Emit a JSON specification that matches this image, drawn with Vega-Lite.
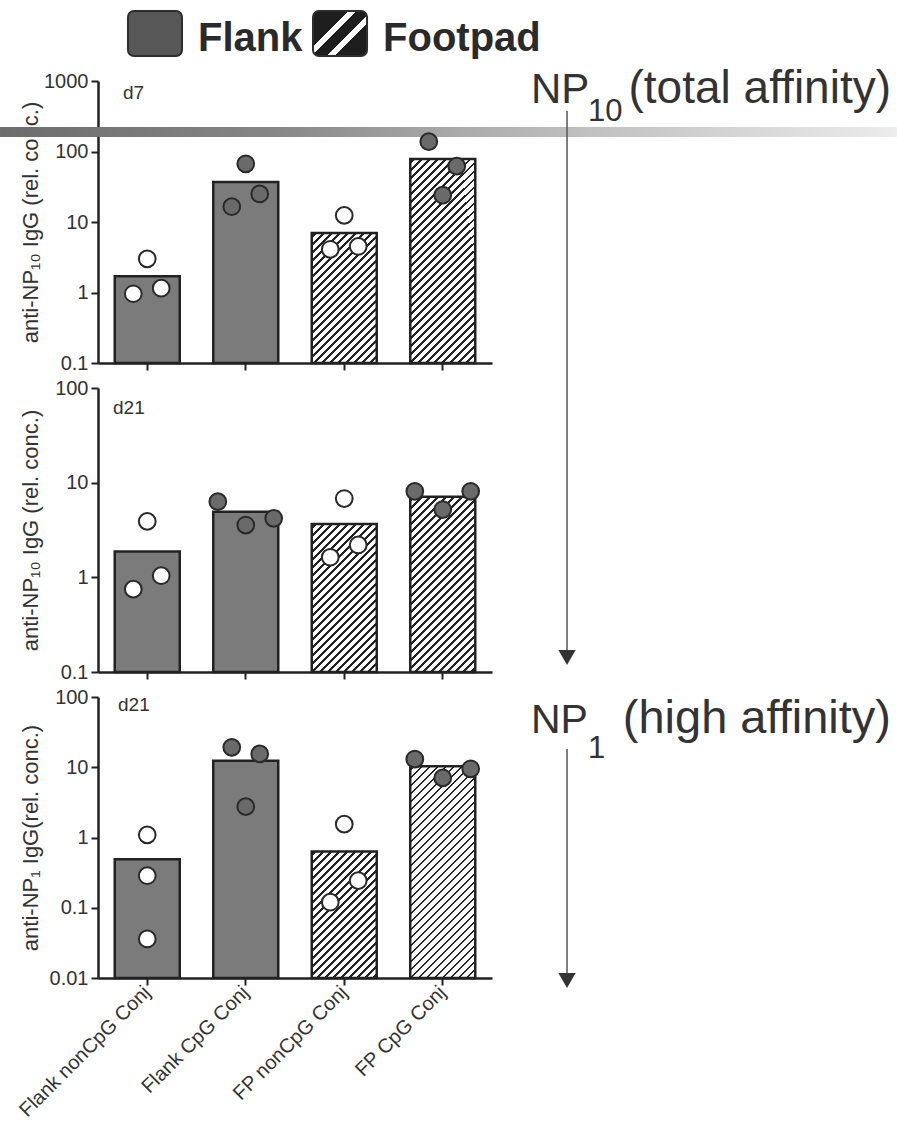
{
  "$schema": "https://vega.github.io/schema/vega-lite/v6.json",
  "padding": {"left": 0, "top": 10, "right": 0, "bottom": 4},
  "background": "white",
  "spacing": 25,
  "bounds": "flush",
  "config": {
    "view": {"stroke": null},
    "font": "Liberation Sans",
    "axis": {
      "grid": false,
      "domainColor": "#222",
      "domainWidth": 2.5,
      "tickColor": "#222",
      "tickWidth": 2,
      "tickSize": 7,
      "labelFont": "Liberation Sans",
      "labelFontSize": 20,
      "labelColor": "#333",
      "labelPadding": 3,
      "titleFont": "Liberation Sans",
      "titleFontSize": 22,
      "titleFontWeight": "normal",
      "titleColor": "#333"
    },
    "axisY": {"titleX": -56, "titleFontSize": 22}
  },
  "params": [
    {
      "name": "hatch",
      "value": [
        {"offset":0.0033,"color":"#fff"},{"offset":0.0033,"color":"#222"},{"offset":0.0067,"color":"#222"},{"offset":0.0067,"color":"#fff"},
        {"offset":0.0133,"color":"#fff"},{"offset":0.0133,"color":"#222"},{"offset":0.0167,"color":"#222"},{"offset":0.0167,"color":"#fff"},
        {"offset":0.0233,"color":"#fff"},{"offset":0.0233,"color":"#222"},{"offset":0.0267,"color":"#222"},{"offset":0.0267,"color":"#fff"},
        {"offset":0.0333,"color":"#fff"},{"offset":0.0333,"color":"#222"},{"offset":0.0367,"color":"#222"},{"offset":0.0367,"color":"#fff"},
        {"offset":0.0433,"color":"#fff"},{"offset":0.0433,"color":"#222"},{"offset":0.0467,"color":"#222"},{"offset":0.0467,"color":"#fff"},
        {"offset":0.0533,"color":"#fff"},{"offset":0.0533,"color":"#222"},{"offset":0.0567,"color":"#222"},{"offset":0.0567,"color":"#fff"},
        {"offset":0.0633,"color":"#fff"},{"offset":0.0633,"color":"#222"},{"offset":0.0667,"color":"#222"},{"offset":0.0667,"color":"#fff"},
        {"offset":0.0733,"color":"#fff"},{"offset":0.0733,"color":"#222"},{"offset":0.0767,"color":"#222"},{"offset":0.0767,"color":"#fff"},
        {"offset":0.0833,"color":"#fff"},{"offset":0.0833,"color":"#222"},{"offset":0.0867,"color":"#222"},{"offset":0.0867,"color":"#fff"},
        {"offset":0.0933,"color":"#fff"},{"offset":0.0933,"color":"#222"},{"offset":0.0967,"color":"#222"},{"offset":0.0967,"color":"#fff"},
        {"offset":0.1033,"color":"#fff"},{"offset":0.1033,"color":"#222"},{"offset":0.1067,"color":"#222"},{"offset":0.1067,"color":"#fff"},
        {"offset":0.1133,"color":"#fff"},{"offset":0.1133,"color":"#222"},{"offset":0.1167,"color":"#222"},{"offset":0.1167,"color":"#fff"},
        {"offset":0.1233,"color":"#fff"},{"offset":0.1233,"color":"#222"},{"offset":0.1267,"color":"#222"},{"offset":0.1267,"color":"#fff"},
        {"offset":0.1333,"color":"#fff"},{"offset":0.1333,"color":"#222"},{"offset":0.1367,"color":"#222"},{"offset":0.1367,"color":"#fff"},
        {"offset":0.1433,"color":"#fff"},{"offset":0.1433,"color":"#222"},{"offset":0.1467,"color":"#222"},{"offset":0.1467,"color":"#fff"},
        {"offset":0.1533,"color":"#fff"},{"offset":0.1533,"color":"#222"},{"offset":0.1567,"color":"#222"},{"offset":0.1567,"color":"#fff"},
        {"offset":0.1633,"color":"#fff"},{"offset":0.1633,"color":"#222"},{"offset":0.1667,"color":"#222"},{"offset":0.1667,"color":"#fff"},
        {"offset":0.1733,"color":"#fff"},{"offset":0.1733,"color":"#222"},{"offset":0.1767,"color":"#222"},{"offset":0.1767,"color":"#fff"},
        {"offset":0.1833,"color":"#fff"},{"offset":0.1833,"color":"#222"},{"offset":0.1867,"color":"#222"},{"offset":0.1867,"color":"#fff"},
        {"offset":0.1933,"color":"#fff"},{"offset":0.1933,"color":"#222"},{"offset":0.1967,"color":"#222"},{"offset":0.1967,"color":"#fff"},
        {"offset":0.2033,"color":"#fff"},{"offset":0.2033,"color":"#222"},{"offset":0.2067,"color":"#222"},{"offset":0.2067,"color":"#fff"},
        {"offset":0.2133,"color":"#fff"},{"offset":0.2133,"color":"#222"},{"offset":0.2167,"color":"#222"},{"offset":0.2167,"color":"#fff"},
        {"offset":0.2233,"color":"#fff"},{"offset":0.2233,"color":"#222"},{"offset":0.2267,"color":"#222"},{"offset":0.2267,"color":"#fff"},
        {"offset":0.2333,"color":"#fff"},{"offset":0.2333,"color":"#222"},{"offset":0.2367,"color":"#222"},{"offset":0.2367,"color":"#fff"},
        {"offset":0.2433,"color":"#fff"},{"offset":0.2433,"color":"#222"},{"offset":0.2467,"color":"#222"},{"offset":0.2467,"color":"#fff"},
        {"offset":0.2533,"color":"#fff"},{"offset":0.2533,"color":"#222"},{"offset":0.2567,"color":"#222"},{"offset":0.2567,"color":"#fff"},
        {"offset":0.2633,"color":"#fff"},{"offset":0.2633,"color":"#222"},{"offset":0.2667,"color":"#222"},{"offset":0.2667,"color":"#fff"},
        {"offset":0.2733,"color":"#fff"},{"offset":0.2733,"color":"#222"},{"offset":0.2767,"color":"#222"},{"offset":0.2767,"color":"#fff"},
        {"offset":0.2833,"color":"#fff"},{"offset":0.2833,"color":"#222"},{"offset":0.2867,"color":"#222"},{"offset":0.2867,"color":"#fff"},
        {"offset":0.2933,"color":"#fff"},{"offset":0.2933,"color":"#222"},{"offset":0.2967,"color":"#222"},{"offset":0.2967,"color":"#fff"},
        {"offset":0.3033,"color":"#fff"},{"offset":0.3033,"color":"#222"},{"offset":0.3067,"color":"#222"},{"offset":0.3067,"color":"#fff"},
        {"offset":0.3133,"color":"#fff"},{"offset":0.3133,"color":"#222"},{"offset":0.3167,"color":"#222"},{"offset":0.3167,"color":"#fff"},
        {"offset":0.3233,"color":"#fff"},{"offset":0.3233,"color":"#222"},{"offset":0.3267,"color":"#222"},{"offset":0.3267,"color":"#fff"},
        {"offset":0.3333,"color":"#fff"},{"offset":0.3333,"color":"#222"},{"offset":0.3367,"color":"#222"},{"offset":0.3367,"color":"#fff"},
        {"offset":0.3433,"color":"#fff"},{"offset":0.3433,"color":"#222"},{"offset":0.3467,"color":"#222"},{"offset":0.3467,"color":"#fff"},
        {"offset":0.3533,"color":"#fff"},{"offset":0.3533,"color":"#222"},{"offset":0.3567,"color":"#222"},{"offset":0.3567,"color":"#fff"}
      ]
    }
  ],
  "datasets": {
    "legend": [{"site": "Flank"}, {"site": "Footpad"}],
    "bars": [
      {"panel": "p1", "group": "Flank nonCpG Conj", "mean": 1.7},
      {"panel": "p1", "group": "Flank CpG Conj", "mean": 37},
      {"panel": "p1", "group": "FP nonCpG Conj", "mean": 7.0},
      {"panel": "p1", "group": "FP CpG Conj", "mean": 78},
      {"panel": "p2", "group": "Flank nonCpG Conj", "mean": 1.88},
      {"panel": "p2", "group": "Flank CpG Conj", "mean": 4.94},
      {"panel": "p2", "group": "FP nonCpG Conj", "mean": 3.65},
      {"panel": "p2", "group": "FP CpG Conj", "mean": 7.1},
      {"panel": "p3", "group": "Flank nonCpG Conj", "mean": 0.49},
      {"panel": "p3", "group": "Flank CpG Conj", "mean": 12.4},
      {"panel": "p3", "group": "FP nonCpG Conj", "mean": 0.63},
      {"panel": "p3", "group": "FP CpG Conj", "mean": 10.3}
    ],
    "pts": [
      {"panel": "p1", "group": "Flank nonCpG Conj", "value": 3.0, "jitter": 0},
      {"panel": "p1", "group": "Flank nonCpG Conj", "value": 0.96, "jitter": -1},
      {"panel": "p1", "group": "Flank nonCpG Conj", "value": 1.15, "jitter": 1},
      {"panel": "p1", "group": "Flank CpG Conj", "value": 67, "jitter": 0},
      {"panel": "p1", "group": "Flank CpG Conj", "value": 16.5, "jitter": -1},
      {"panel": "p1", "group": "Flank CpG Conj", "value": 25, "jitter": 1},
      {"panel": "p1", "group": "FP nonCpG Conj", "value": 12.4, "jitter": 0},
      {"panel": "p1", "group": "FP nonCpG Conj", "value": 4.1, "jitter": -1},
      {"panel": "p1", "group": "FP nonCpG Conj", "value": 4.5, "jitter": 1},
      {"panel": "p1", "group": "FP CpG Conj", "value": 138, "jitter": -1},
      {"panel": "p1", "group": "FP CpG Conj", "value": 62, "jitter": 1},
      {"panel": "p1", "group": "FP CpG Conj", "value": 24, "jitter": 0},
      {"panel": "p2", "group": "Flank nonCpG Conj", "value": 3.9, "jitter": 0},
      {"panel": "p2", "group": "Flank nonCpG Conj", "value": 0.75, "jitter": -1},
      {"panel": "p2", "group": "Flank nonCpG Conj", "value": 1.04, "jitter": 1},
      {"panel": "p2", "group": "Flank CpG Conj", "value": 6.3, "jitter": -2},
      {"panel": "p2", "group": "Flank CpG Conj", "value": 3.57, "jitter": 0},
      {"panel": "p2", "group": "Flank CpG Conj", "value": 4.2, "jitter": 2},
      {"panel": "p2", "group": "FP nonCpG Conj", "value": 6.8, "jitter": 0},
      {"panel": "p2", "group": "FP nonCpG Conj", "value": 1.63, "jitter": -1},
      {"panel": "p2", "group": "FP nonCpG Conj", "value": 2.2, "jitter": 1},
      {"panel": "p2", "group": "FP CpG Conj", "value": 8.1, "jitter": -2},
      {"panel": "p2", "group": "FP CpG Conj", "value": 5.2, "jitter": 0},
      {"panel": "p2", "group": "FP CpG Conj", "value": 8.1, "jitter": 2},
      {"panel": "p3", "group": "Flank nonCpG Conj", "value": 1.09, "jitter": 0},
      {"panel": "p3", "group": "Flank nonCpG Conj", "value": 0.286, "jitter": 0},
      {"panel": "p3", "group": "Flank nonCpG Conj", "value": 0.036, "jitter": 0},
      {"panel": "p3", "group": "Flank CpG Conj", "value": 19.2, "jitter": -1},
      {"panel": "p3", "group": "Flank CpG Conj", "value": 15.5, "jitter": 1},
      {"panel": "p3", "group": "Flank CpG Conj", "value": 2.75, "jitter": 0},
      {"panel": "p3", "group": "FP nonCpG Conj", "value": 1.55, "jitter": 0},
      {"panel": "p3", "group": "FP nonCpG Conj", "value": 0.12, "jitter": -1},
      {"panel": "p3", "group": "FP nonCpG Conj", "value": 0.243, "jitter": 1},
      {"panel": "p3", "group": "FP CpG Conj", "value": 13.1, "jitter": -2},
      {"panel": "p3", "group": "FP CpG Conj", "value": 7.05, "jitter": 0},
      {"panel": "p3", "group": "FP CpG Conj", "value": 9.5, "jitter": 2}
    ]
  },
  "vconcat": [
    {
      "width": 299,
      "height": 45,
      "data": {"name": "legend"},
      "layer": [
        {
          "mark": {"type": "bar", "cornerRadius": 6, "stroke": "#2e2e2e", "strokeWidth": 2},
          "encoding": {
            "x": {"field": "site", "type": "nominal", "title": null, "scale": {"type": "band", "domain": ["Flank", "Footpad"], "paddingInner": 0.708, "paddingOuter": 0.162}, "axis": null},
            "fill": {
              "condition": {
                "test": "datum.site === 'Footpad'",
                "value": {"gradient": "linear", "x1": 0, "y1": 0, "x2": 1.082, "y2": 0.902,
                  "stops": [
                    {"offset": 0, "color": "#1e1e1e"}, {"offset": 0.355, "color": "#1e1e1e"},
                    {"offset": 0.355, "color": "#ffffff"}, {"offset": 0.44, "color": "#ffffff"},
                    {"offset": 0.44, "color": "#1e1e1e"}, {"offset": 0.59, "color": "#1e1e1e"},
                    {"offset": 0.59, "color": "#ffffff"}, {"offset": 0.675, "color": "#ffffff"},
                    {"offset": 0.675, "color": "#1e1e1e"}, {"offset": 1, "color": "#1e1e1e"}
                  ]}
              },
              "value": "#575757"
            }
          }
        },
        {
          "mark": {"type": "text", "align": "left", "baseline": "middle", "dx": 16, "dy": 5, "fontSize": 40, "fontWeight": "bold", "fill": "#2a2a2a"},
          "encoding": {
            "x": {"field": "site", "type": "nominal", "title": null, "bandPosition": 1, "scale": {"type": "band", "domain": ["Flank", "Footpad"], "paddingInner": 0.708, "paddingOuter": 0.162}, "axis": null},
            "text": {"field": "site", "type": "nominal"}
          }
        }
      ]
    },
    {
      "width": 394,
      "height": 282,
      "resolve": {"scale": {"x": "independent", "xOffset": "independent"}},
      "layer": [
        {
          "data": {"values": [{"label": "band"}]},
          "mark": {"type": "rect", "fill": {"gradient": "linear", "x1": 0, "y1": 0, "x2": 1, "y2": 0,
            "stops": [{"offset": 0, "color": "#6c6c6c"}, {"offset": 0.3, "color": "#868686"}, {"offset": 0.6, "color": "#b9b9b9"}, {"offset": 1, "color": "#ececec"}]}},
          "encoding": {
            "x": {"datum": -0.2487, "type": "quantitative", "scale": {"domain": [0, 1]}, "axis": null},
            "x2": {"datum": 2.0279},
            "y": {"datum": 222.6, "type": "quantitative", "title": "anti-NP₁₀ IgG (rel. conc.)", "scale": {"type": "log", "domain": [0.1, 1000]}},
            "y2": {"datum": 160.6}
          }
        },
        {
          "data": {"name": "bars"},
          "transform": [{"filter": "datum.panel === 'p1'"}],
          "mark": {"type": "bar", "stroke": "#222", "strokeWidth": 2.5},
          "encoding": {
            "x": {"field": "group", "type": "nominal", "title": null, "scale": {"type": "band", "domain": ["Flank nonCpG Conj", "Flank CpG Conj", "FP nonCpG Conj", "FP CpG Conj"], "paddingInner": 0.34, "paddingOuter": 0.17}, "axis": {"labels": false}},
            "y": {"field": "mean", "type": "quantitative", "title": "anti-NP₁₀ IgG (rel. conc.)", "scale": {"type": "log", "domain": [0.1, 1000]}, "axis": {"values": [0.1, 1, 10, 100, 1000], "format": "~g", "titleFontSize": 22}},
            "y2": {"datum": 0.1},
            "fill": {
              "condition": [
                {"test": "datum.group === 'FP nonCpG Conj'", "value": {"expr": "{gradient:'linear',x1:0,y1:0,x2:2.4585,y2:4.9208,stops:hatch}"}},
                {"test": "datum.group === 'FP CpG Conj'", "value": {"expr": "{gradient:'linear',x1:0,y1:0,x2:1.1354,y2:3.5616,stops:hatch}"}}
              ],
              "value": "#7b7b7b"
            }
          }
        },
        {
          "data": {"name": "pts"},
          "transform": [{"filter": "datum.panel === 'p1'"}],
          "mark": {"type": "point", "shape": "circle", "filled": true, "size": 280, "stroke": "#2a2a2a", "strokeWidth": 2, "opacity": 1},
          "encoding": {
            "x": {"field": "group", "type": "nominal", "title": null, "scale": {"type": "band", "domain": ["Flank nonCpG Conj", "Flank CpG Conj", "FP nonCpG Conj", "FP CpG Conj"], "paddingInner": 0.34, "paddingOuter": 0.17}, "axis": null},
            "xOffset": {"field": "jitter", "type": "ordinal", "scale": {"domain": [-2, -1, 0, 1, 2], "paddingInner": 0, "paddingOuter": 0.326}},
            "y": {"field": "value", "type": "quantitative", "title": "anti-NP₁₀ IgG (rel. conc.)", "scale": {"type": "log", "domain": [0.1, 1000]}},
            "fill": {"condition": {"test": "indexof(datum.group, 'nonCpG') >= 0", "value": "#ffffff"}, "value": "#6a6a6a"}
          }
        },
        {
          "data": {"values": [{"label": "d7"}]},
          "mark": {"type": "text", "align": "left", "baseline": "middle", "fontSize": 19, "fill": "#333"},
          "encoding": {
            "x": {"datum": 0.0635, "type": "quantitative", "scale": {"domain": [0, 1]}, "axis": null},
            "y": {"datum": 675.7, "type": "quantitative", "title": "anti-NP₁₀ IgG (rel. conc.)", "scale": {"type": "log", "domain": [0.1, 1000]}},
            "text": {"field": "label", "type": "nominal"}
          }
        },
        {
          "data": {"values": [{"label": "NP"}]},
          "mark": {"type": "text", "align": "left", "baseline": "alphabetic", "fontSize": 42, "fill": "#333"},
          "encoding": {
            "x": {"datum": 1.099, "type": "quantitative", "scale": {"domain": [0, 1]}, "axis": null},
            "y": {"datum": 487.6, "type": "quantitative", "title": "anti-NP₁₀ IgG (rel. conc.)", "scale": {"type": "log", "domain": [0.1, 1000]}},
            "text": {"field": "label", "type": "nominal"}
          }
        },
        {
          "data": {"values": [{"label": "10"}]},
          "mark": {"type": "text", "align": "left", "baseline": "alphabetic", "fontSize": 31, "fill": "#333"},
          "encoding": {
            "x": {"datum": 1.2437, "type": "quantitative", "scale": {"domain": [0, 1]}, "axis": null},
            "y": {"datum": 270.7, "type": "quantitative", "title": "anti-NP₁₀ IgG (rel. conc.)", "scale": {"type": "log", "domain": [0.1, 1000]}},
            "text": {"field": "label", "type": "nominal"}
          }
        },
        {
          "data": {"values": [{"label": "(total affinity)"}]},
          "mark": {"type": "text", "align": "right", "baseline": "alphabetic", "fontSize": 46, "fill": "#333"},
          "encoding": {
            "x": {"datum": 2.0127, "type": "quantitative", "scale": {"domain": [0, 1]}, "axis": null},
            "y": {"datum": 487.6, "type": "quantitative", "title": "anti-NP₁₀ IgG (rel. conc.)", "scale": {"type": "log", "domain": [0.1, 1000]}},
            "text": {"field": "label", "type": "nominal"}
          }
        }
      ]
    },
    {
      "width": 394,
      "height": 284,
      "resolve": {"scale": {"x": "independent", "xOffset": "independent"}},
      "layer": [
        {
          "data": {"name": "bars"},
          "transform": [{"filter": "datum.panel === 'p2'"}],
          "mark": {"type": "bar", "stroke": "#222", "strokeWidth": 2.5},
          "encoding": {
            "x": {"field": "group", "type": "nominal", "title": null, "scale": {"type": "band", "domain": ["Flank nonCpG Conj", "Flank CpG Conj", "FP nonCpG Conj", "FP CpG Conj"], "paddingInner": 0.34, "paddingOuter": 0.17}, "axis": {"labels": false}},
            "y": {"field": "mean", "type": "quantitative", "title": "anti-NP₁₀ IgG (rel. conc.)", "scale": {"type": "log", "domain": [0.1, 100]}, "axis": {"values": [0.1, 1, 10, 100], "format": "~g", "titleFontSize": 22}},
            "y2": {"datum": 0.1},
            "fill": {
              "condition": [
                {"test": "datum.group === 'FP nonCpG Conj'", "value": {"expr": "{gradient:'linear',x1:0,y1:0,x2:1.9924,y2:4.5335,stops:hatch}"}},
                {"test": "datum.group === 'FP CpG Conj'", "value": {"expr": "{gradient:'linear',x1:0,y1:0,x2:1.4876,y2:4.012,stops:hatch}"}}
              ],
              "value": "#7b7b7b"
            }
          }
        },
        {
          "data": {"name": "pts"},
          "transform": [{"filter": "datum.panel === 'p2'"}],
          "mark": {"type": "point", "shape": "circle", "filled": true, "size": 280, "stroke": "#2a2a2a", "strokeWidth": 2, "opacity": 1},
          "encoding": {
            "x": {"field": "group", "type": "nominal", "title": null, "scale": {"type": "band", "domain": ["Flank nonCpG Conj", "Flank CpG Conj", "FP nonCpG Conj", "FP CpG Conj"], "paddingInner": 0.34, "paddingOuter": 0.17}, "axis": null},
            "xOffset": {"field": "jitter", "type": "ordinal", "scale": {"domain": [-2, -1, 0, 1, 2], "paddingInner": 0, "paddingOuter": 0.326}},
            "y": {"field": "value", "type": "quantitative", "title": "anti-NP₁₀ IgG (rel. conc.)", "scale": {"type": "log", "domain": [0.1, 100]}},
            "fill": {"condition": {"test": "indexof(datum.group, 'nonCpG') >= 0", "value": "#ffffff"}, "value": "#6a6a6a"}
          }
        },
        {
          "data": {"values": [{"label": "d21"}]},
          "mark": {"type": "text", "align": "left", "baseline": "middle", "fontSize": 19, "fill": "#333"},
          "encoding": {
            "x": {"datum": 0.0381, "type": "quantitative", "scale": {"domain": [0, 1]}, "axis": null},
            "y": {"datum": 61.5, "type": "quantitative", "title": "anti-NP₁₀ IgG (rel. conc.)", "scale": {"type": "log", "domain": [0.1, 100]}},
            "text": {"field": "label", "type": "nominal"}
          }
        },
        {
          "data": {"values": [{"label": "arrow"}]},
          "mark": {"type": "rule", "stroke": "#555", "strokeWidth": 1.5},
          "encoding": {
            "x": {"datum": 1.1904, "type": "quantitative", "scale": {"domain": [0, 1]}, "axis": null},
            "y": {"datum": 84340, "type": "quantitative", "title": "anti-NP₁₀ IgG (rel. conc.)", "scale": {"type": "log", "domain": [0.1, 100]}},
            "y2": {"datum": 0.1423}
          }
        },
        {
          "data": {"values": [{"label": "arrowhead"}]},
          "mark": {"type": "point", "shape": "triangle-down", "size": 300, "filled": true, "fill": "#333", "strokeWidth": 0, "opacity": 1},
          "encoding": {
            "x": {"datum": 1.1904, "type": "quantitative", "scale": {"domain": [0, 1]}, "axis": null},
            "y": {"datum": 0.1423, "type": "quantitative", "title": "anti-NP₁₀ IgG (rel. conc.)", "scale": {"type": "log", "domain": [0.1, 100]}}
          }
        }
      ]
    },
    {
      "width": 394,
      "height": 281,
      "resolve": {"scale": {"x": "independent", "xOffset": "independent"}},
      "layer": [
        {
          "data": {"name": "bars"},
          "transform": [{"filter": "datum.panel === 'p3'"}],
          "mark": {"type": "bar", "stroke": "#222", "strokeWidth": 2.5},
          "encoding": {
            "x": {"field": "group", "type": "nominal", "title": null, "scale": {"type": "band", "domain": ["Flank nonCpG Conj", "Flank CpG Conj", "FP nonCpG Conj", "FP CpG Conj"], "paddingInner": 0.34, "paddingOuter": 0.17}, "axis": {"labelAngle": -45, "labelAlign": "right", "labelBaseline": "middle", "labelPadding": 4, "labelFontSize": 20}},
            "y": {"field": "mean", "type": "quantitative", "title": "anti-NP₁ IgG(rel. conc.)", "scale": {"type": "log", "domain": [0.01, 100]}, "axis": {"values": [0.01, 0.1, 1, 10, 100], "format": "~g", "titleFontSize": 22}},
            "y2": {"datum": 0.01},
            "fill": {
              "condition": [
                {"test": "datum.group === 'FP nonCpG Conj'", "value": {"expr": "{gradient:'linear',x1:0,y1:0,x2:2.574,y2:5.0054,stops:hatch}"}},
                {"test": "datum.group === 'FP CpG Conj'", "value": {"expr": "{gradient:'linear',x1:0,y1:0,x2:1.0603,y2:3.4534,stops:hatch}"}}
              ],
              "value": "#7b7b7b"
            }
          }
        },
        {
          "data": {"name": "pts"},
          "transform": [{"filter": "datum.panel === 'p3'"}],
          "mark": {"type": "point", "shape": "circle", "filled": true, "size": 280, "stroke": "#2a2a2a", "strokeWidth": 2, "opacity": 1},
          "encoding": {
            "x": {"field": "group", "type": "nominal", "title": null, "scale": {"type": "band", "domain": ["Flank nonCpG Conj", "Flank CpG Conj", "FP nonCpG Conj", "FP CpG Conj"], "paddingInner": 0.34, "paddingOuter": 0.17}, "axis": null},
            "xOffset": {"field": "jitter", "type": "ordinal", "scale": {"domain": [-2, -1, 0, 1, 2], "paddingInner": 0, "paddingOuter": 0.326}},
            "y": {"field": "value", "type": "quantitative", "title": "anti-NP₁ IgG(rel. conc.)", "scale": {"type": "log", "domain": [0.01, 100]}},
            "fill": {"condition": {"test": "indexof(datum.group, 'nonCpG') >= 0", "value": "#ffffff"}, "value": "#6a6a6a"}
          }
        },
        {
          "data": {"values": [{"label": "d21"}]},
          "mark": {"type": "text", "align": "left", "baseline": "middle", "fontSize": 19, "fill": "#333"},
          "encoding": {
            "x": {"datum": 0.0508, "type": "quantitative", "scale": {"domain": [0, 1]}, "axis": null},
            "y": {"datum": 76.9, "type": "quantitative", "title": "anti-NP₁ IgG(rel. conc.)", "scale": {"type": "log", "domain": [0.01, 100]}},
            "text": {"field": "label", "type": "nominal"}
          }
        },
        {
          "data": {"values": [{"label": "NP"}]},
          "mark": {"type": "text", "align": "left", "baseline": "alphabetic", "fontSize": 41, "fill": "#333"},
          "encoding": {
            "x": {"datum": 1.099, "type": "quantitative", "scale": {"domain": [0, 1]}, "axis": null},
            "y": {"datum": 30.73, "type": "quantitative", "title": "anti-NP₁ IgG(rel. conc.)", "scale": {"type": "log", "domain": [0.01, 100]}},
            "text": {"field": "label", "type": "nominal"}
          }
        },
        {
          "data": {"values": [{"label": "1"}]},
          "mark": {"type": "text", "align": "left", "baseline": "alphabetic", "fontSize": 31, "fill": "#333"},
          "encoding": {
            "x": {"datum": 1.2437, "type": "quantitative", "scale": {"domain": [0, 1]}, "axis": null},
            "y": {"datum": 13.54, "type": "quantitative", "title": "anti-NP₁ IgG(rel. conc.)", "scale": {"type": "log", "domain": [0.01, 100]}},
            "text": {"field": "label", "type": "nominal"}
          }
        },
        {
          "data": {"values": [{"label": "(high affinity)"}]},
          "mark": {"type": "text", "align": "right", "baseline": "alphabetic", "fontSize": 47, "fill": "#333"},
          "encoding": {
            "x": {"datum": 2.0127, "type": "quantitative", "scale": {"domain": [0, 1]}, "axis": null},
            "y": {"datum": 30.73, "type": "quantitative", "title": "anti-NP₁ IgG(rel. conc.)", "scale": {"type": "log", "domain": [0.01, 100]}},
            "text": {"field": "label", "type": "nominal"}
          }
        },
        {
          "data": {"values": [{"label": "arrow"}]},
          "mark": {"type": "rule", "stroke": "#555", "strokeWidth": 1.5},
          "encoding": {
            "x": {"datum": 1.1904, "type": "quantitative", "scale": {"domain": [0, 1]}, "axis": null},
            "y": {"datum": 18.19, "type": "quantitative", "title": "anti-NP₁ IgG(rel. conc.)", "scale": {"type": "log", "domain": [0.01, 100]}},
            "y2": {"datum": 0.00921}
          }
        },
        {
          "data": {"values": [{"label": "arrowhead"}]},
          "mark": {"type": "point", "shape": "triangle-down", "size": 300, "filled": true, "fill": "#333", "strokeWidth": 0, "opacity": 1},
          "encoding": {
            "x": {"datum": 1.1904, "type": "quantitative", "scale": {"domain": [0, 1]}, "axis": null},
            "y": {"datum": 0.00921, "type": "quantitative", "title": "anti-NP₁ IgG(rel. conc.)", "scale": {"type": "log", "domain": [0.01, 100]}}
          }
        }
      ]
    }
  ]
}
